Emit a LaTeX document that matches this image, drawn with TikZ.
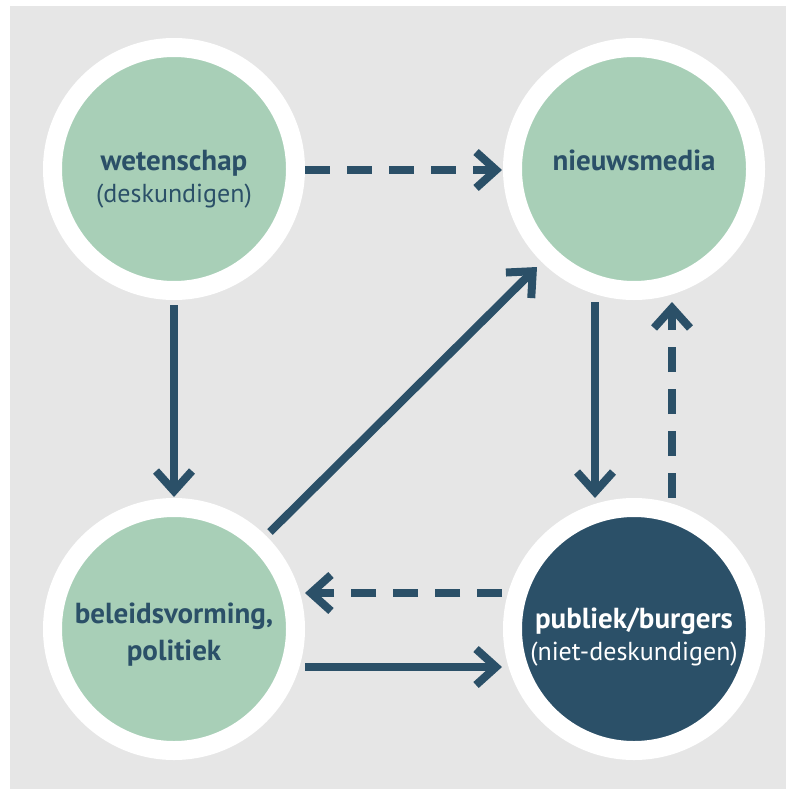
\documentclass[tikz,border=0pt]{standalone}
\usepackage{fontspec}
\setmainfont{PT Sans}
\usetikzlibrary{arrows.meta,calc}
\definecolor{bgg}{HTML}{E6E6E6}
\definecolor{grn}{HTML}{A8CFB7}
\definecolor{navy}{HTML}{2B5068}
\begin{document}
\begin{tikzpicture}[x=1pt,y=-1pt,
  ring/.style={circle,draw=white,line width=19pt,minimum size=243pt,inner sep=0pt},
  conn/.style={draw=navy,line width=8pt,-{Straight Barb[length=20pt,width=36pt]}},
  dashconn/.style={conn,dash pattern=on 25pt off 17pt},
  lbl/.style={anchor=base,font=\fontsize{29}{32}\selectfont\bfseries,text=navy,inner sep=0pt},
  sub/.style={anchor=base,font=\fontsize{26}{30}\selectfont,text=navy,inner sep=0pt}]
\useasboundingbox (0,0) rectangle (786,789);
\fill[bgg] (10,6) rectangle (786,789);

\node[ring,fill=grn] (w) at (174,169) {};
\node[ring,fill=grn] (n) at (634,169) {};
\node[ring,fill=grn] (b) at (174,629) {};
\node[ring,fill=navy] (p) at (634,629) {};

\node[lbl] (wt) at ($(w)+(0,1)$) {wetenschap};
\node[sub] (ws) at ($(w)+(0,33)$) {(deskundigen)};
\node[lbl] (nt) at ($(n)+(0,1)$) {nieuwsmedia};
\node[lbl] (bt1) at ($(b)+(0,-6)$) {beleidsvorming,};
\node[lbl] (bt2) at ($(b)+(0,31)$) {politiek};
\node[lbl,text=white] (pt) at ($(p)+(0,-1)$) {publiek/burgers};
\node[sub,text=white] (ps) at ($(p)+(0,31)$) {(niet-deskundigen)};

\draw[dashconn] ($(w)+(131,1)$) -- ($(n)+(-132,1)$);
\draw[conn] ($(w)+(0,136)$) -- ($(b)+(0,-132)$);
\draw[conn] ($(b)+(96,-97)$) -- ($(n)+(-97,98)$);
\draw[conn] ($(n)+(-39,133)$) -- ($(p)+(-39,-131)$);
\draw[dashconn] ($(p)+(38,-131)$) -- ($(n)+(38,133)$);
\draw[dashconn] ($(p)+(-132,-36)$) -- ($(b)+(131,-36)$);
\draw[conn] ($(b)+(131,38)$) -- ($(p)+(-132,38)$);
\end{tikzpicture}
\end{document}
